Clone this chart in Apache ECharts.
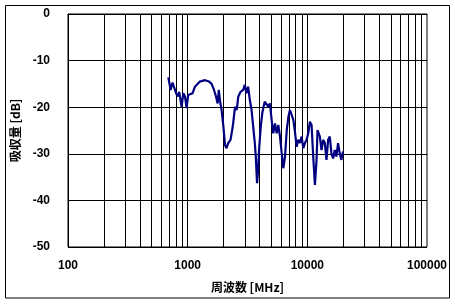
<!DOCTYPE html>
<html>
<head>
<meta charset="utf-8">
<script src="https://cdn.jsdelivr.net/npm/echarts@6/dist/echarts.min.js"></script>
<style>
html,body{margin:0;padding:0;background:#fff;}
#c{width:455px;height:304px;}
</style>
</head>
<body>
<div id="c"></div>
<script>
// Frequency [MHz]
var freqs = [689,721,747,773,800,826,850,890,920,950,980,1010,1045,1100,1150,1265,1395,1510,1585,1660,1725,1780,1820,1860,1920,1990,2050,2110,2180,2280,2380,2490,2570,2650,2770,2910,3000,3100,3200,3310,3420,3530,3640,3710,3800,3880,3950,4080,4200,4400,4560,4710,4870,5030,5190,5370,5540,5720,5910,6110,6300,6510,6730,6950,7160,7400,7640,7880,8140,8400,8680,8960,9250,9550,9860,10180,10500,10850,11200,11570,11940,12170,12730,13130,13560,14000,14450,14920,15400,15900,16420,16950,17500,18060,18650,19250,19870];
// Absorption [dB]
var absorption = [-13.6,-16.3,-14.7,-14.5,-17.0,-17.7,-16.7,-19.9,-17.0,-17.7,-20.2,-17.4,-17.0,-17.0,-15.6,-14.5,-14.2,-14.5,-15.0,-16.3,-17.7,-19.2,-16.3,-18.5,-20.6,-24.2,-28.1,-28.8,-27.7,-27.0,-24.2,-19.9,-20.6,-17.7,-16.7,-16.3,-15.2,-17.0,-15.6,-18.5,-20.6,-24.2,-27.7,-30.6,-36.3,-33.5,-29.2,-24.2,-21.3,-18.8,-18.5,-19.9,-19.2,-22.7,-25.6,-23.5,-25.6,-23.8,-26.3,-29.9,-33.1,-30.6,-24.9,-22.0,-20.6,-20.2,-22.7,-25.3,-28.5,-27.0,-27.7,-26.3,-28.8,-27.7,-27.0,-25.6,-23.1,-23.8,-30.6,-36.7,-31.3,-24.9,-26.3,-29.2,-27.0,-27.7,-31.3,-27.0,-26.3,-29.9,-31.0,-29.2,-30.6,-27.7,-29.9,-31.3,-29.5];
// Vertical grid positions (log decades with 2..9 subdivisions)
var gridFreqs = [200,300,400,500,600,700,800,900,1000,2000,3000,4000,5000,6000,7000,8000,9000,10000,20000,30000,40000,50000,60000,70000,80000,90000];

var data = freqs.map(function(f,i){return [f, absorption[i]];});
var chart = echarts.init(document.getElementById('c'), null, {renderer:'canvas'});
var numFont = {fontFamily:'Liberation Sans', fontWeight:'bold', fontSize:12, color:'#000'};
chart.setOption({
  animation:false,
  backgroundColor:'#fff',
  graphic:[{type:'rect', shape:{x:5.5,y:5.5,width:444,height:292.5}, style:{fill:'none', stroke:'#000', lineWidth:1}, silent:true}],
  grid:{left:68, right:28, top:14, bottom:57, show:true, borderColor:'#000', borderWidth:1, backgroundColor:'#fff'},
  xAxis:{
    type:'log', logBase:10, min:100, max:100000,
    name:'周波数 [MHz]', nameLocation:'middle', nameGap:34,
    nameTextStyle:{fontFamily:'Noto Sans CJK JP', fontWeight:'bold', fontSize:12, color:'#000'},
    axisLine:{show:true, lineStyle:{color:'#000', width:1}},
    axisTick:{show:false},
    splitLine:{show:false},
    axisLabel:Object.assign({margin:13, formatter:function(v){return String(Math.round(v));}}, numFont)
  },
  yAxis:{
    type:'value', min:-50, max:0, interval:10,
    name:'吸収量 [dB]', nameLocation:'middle', nameGap:34, nameRotate:90,
    nameTextStyle:{fontFamily:'Noto Sans CJK JP', fontWeight:'bold', fontSize:12, color:'#000'},
    axisLine:{show:true, lineStyle:{color:'#000', width:1}},
    axisTick:{show:false},
    splitLine:{show:true, lineStyle:{color:'#000', width:1}},
    axisLabel:Object.assign({margin:18, formatter:function(v){return String(v);}}, numFont)
  },
  series:[
    {type:'line', data:data, showSymbol:false, symbol:'none', lineStyle:{color:'#000080', width:2.2}, z:5,
     markLine:{silent:true, symbol:['none','none'], label:{show:false}, lineStyle:{color:'#000', width:1, type:'solid'},
       emphasis:{disabled:true},
       data:gridFreqs.map(function(f){return {xAxis:f};})}
    }
  ]
});
</script>
</body>
</html>
